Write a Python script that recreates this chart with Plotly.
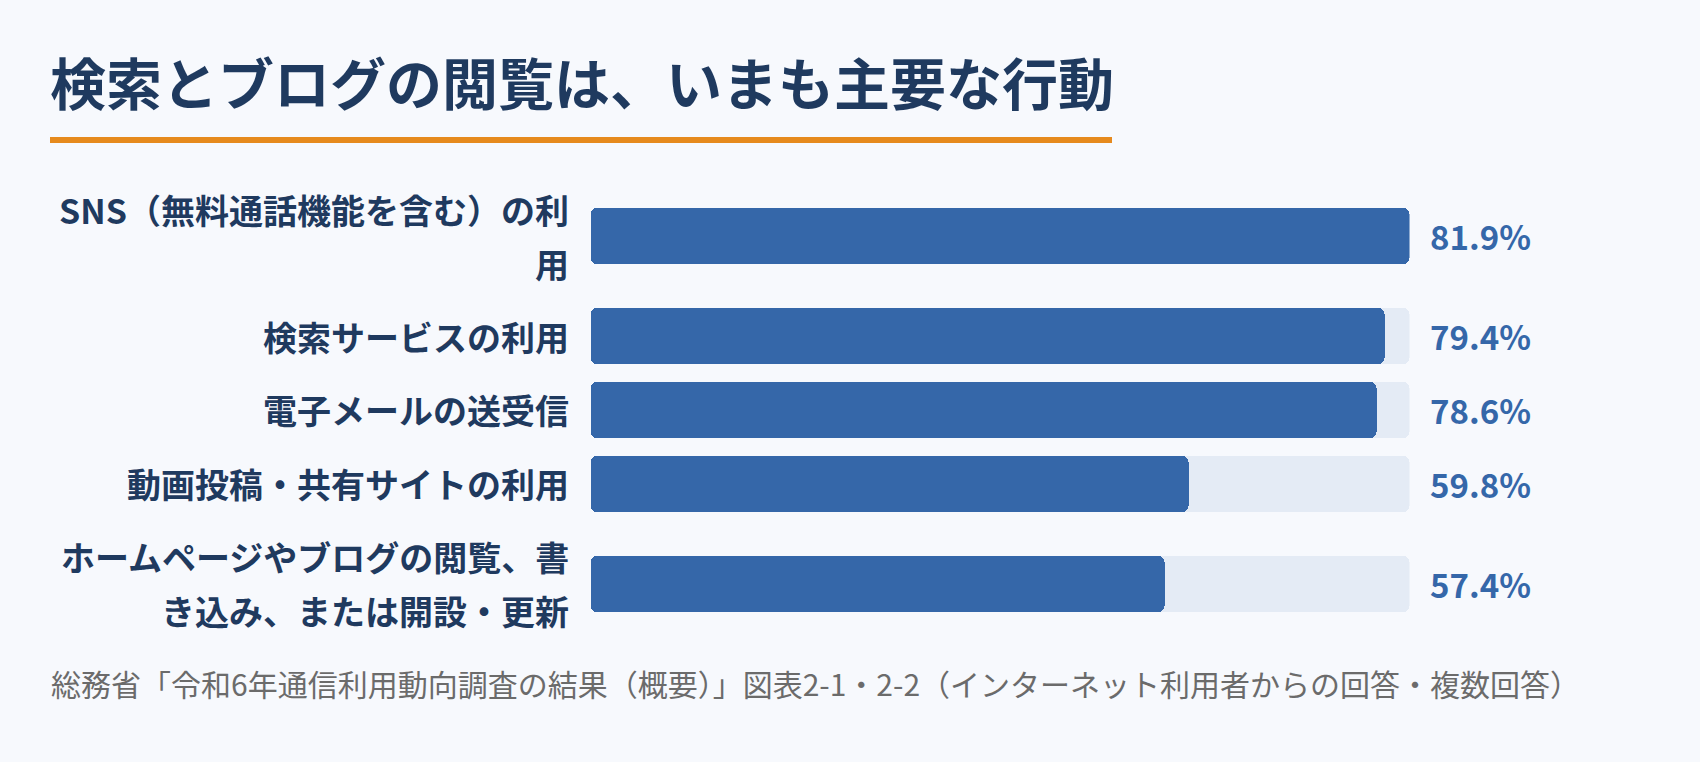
import plotly.graph_objects as go

# ---- data ----
title_text = "検索とブログの閲覧は、いまも主要な行動"
categories = [
    "SNS（無料通話機能を含む）の利<br>用",
    "検索サービスの利用",
    "電子メールの送受信",
    "動画投稿・共有サイトの利用",
    "ホームページやブログの閲覧、書<br>き込み、または開設・更新",
]
values = [81.9, 79.4, 78.6, 59.8, 57.4]
value_labels = ["81.9%", "79.4%", "78.6%", "59.8%", "57.4%"]
source_text = "総務省「令和6年通信利用動向調査の結果（概要）」図表2-1・2-2（インターネット利用者からの回答・複数回答）"

# ---- style ----
W, H = 1700, 762
BG = "#F7F9FD"
BAR = "#3567A9"
TRACK = "#E4EBF5"
NAVY = "#1F3A5F"
ORANGE = "#E68A1E"
GRAY = "#6B6B6B"
FONT = "Noto Sans CJK JP"

PLOT_L, PLOT_R = 590.5, 1409.5   # pixel extent of bar track
TOP = 182
BAR_H = 55.7
LINE_H = 54
GAP = 18.2

# row layout (y axis is in pixel units, reversed)
centers = []
cursor = TOP
for c in categories:
    n = len(c.split("<br>"))
    h = max(BAR_H, n * LINE_H)
    centers.append(cursor + h / 2)
    cursor += h + GAP

track = [max(values)] * len(values)

fig = go.Figure()


def add_rounded_bars(vals, color):
    # two overlapping halves so that both ends get rounded corners
    left_base = [v * 0.6 for v in vals]
    left_len = [-v * 0.6 for v in vals]
    right_base = [v * 0.4 for v in vals]
    right_len = [v * 0.6 for v in vals]
    for base, length in ((left_base, left_len), (right_base, right_len)):
        fig.add_trace(go.Bar(
            orientation="h", x=length, base=base, y=centers, width=BAR_H,
            marker=dict(color=color, cornerradius=6, line=dict(width=0)),
            hoverinfo="skip", showlegend=False,
        ))


add_rounded_bars(track, TRACK)
add_rounded_bars(values, BAR)

annotations = []
# category labels
for c, yc in zip(categories, centers):
    lines = c.split("<br>")
    n = len(lines)
    for k, ln in enumerate(lines):
        annotations.append(dict(
            text=ln, x=0, xref="x", xanchor="right", xshift=-20,
            y=yc + (k - (n - 1) / 2) * LINE_H, yref="y", yanchor="middle",
            showarrow=False, font=dict(family=FONT, size=34, color=NAVY, weight=700),
        ))
# value labels
for v, t, yc in zip(track, value_labels, centers):
    annotations.append(dict(
        text=t, x=v, xref="x", xanchor="left", xshift=18,
        y=yc, yref="y", yanchor="middle",
        showarrow=False, font=dict(family=FONT, size=33, color=BAR, weight=700),
    ))
# title
annotations.append(dict(
    text=title_text, x=48 / W, xref="paper", xanchor="left",
    y=80, yref="y", yanchor="middle", showarrow=False,
    font=dict(family=FONT, size=56, color=NAVY, weight=700),
))
# source
annotations.append(dict(
    text=source_text, x=49 / W, xref="paper", xanchor="left",
    y=683, yref="y", yanchor="middle", showarrow=False,
    font=dict(family=FONT, size=30, color=GRAY),
))

fig.update_layout(
    width=W, height=H,
    margin=dict(l=0, r=0, t=0, b=0),
    paper_bgcolor=BG, plot_bgcolor=BG,
    barmode="overlay", bargap=0,
    xaxis=dict(domain=[PLOT_L / W, PLOT_R / W], range=[0, max(values)],
               visible=False, fixedrange=True),
    yaxis=dict(range=[H, 0], visible=False, fixedrange=True),
    annotations=annotations,
    shapes=[dict(type="rect", xref="paper", yref="y",
                 x0=50 / W, x1=1112 / W, y0=137, y1=143,
                 fillcolor=ORANGE, line=dict(width=0), layer="above")],
)

fig.write_html("out.html", config={"displayModeBar": False},
               post_script="document.body.style.margin='0';document.body.style.overflow='hidden';")
